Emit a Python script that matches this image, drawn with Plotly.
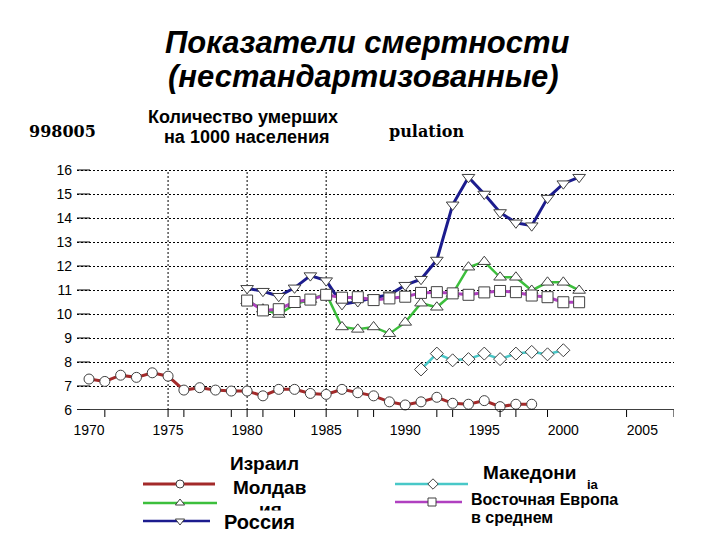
import plotly.graph_objects as go

# ---------------- data ----------------
years_israel = list(range(1970, 1999))
israel = [7.29, 7.19, 7.45, 7.36, 7.55, 7.41, 6.83, 6.93, 6.83, 6.79, 6.79, 6.59, 6.86, 6.86,
          6.69, 6.65, 6.86, 6.72, 6.59, 6.34, 6.21, 6.34, 6.53, 6.28, 6.24, 6.39, 6.14, 6.24, 6.24]

years_80 = list(range(1980, 2002))
moldova = [10.55, 10.20, 9.98, 10.40, 10.60, 10.85, 9.46, 9.36, 9.46, 9.18, 9.65, 10.45,
           10.28, 10.85, 11.95, 12.18, 11.53, 11.53, 10.98, 11.32, 11.32, 10.98]
russia = [11.07, 10.95, 10.74, 11.09, 11.60, 11.39, 10.40, 10.52, 10.68, 10.80, 11.20, 11.45,
          12.25, 14.55, 15.70, 15.00, 14.23, 13.80, 13.68, 14.83, 15.43, 15.70]
east_europe = [10.56, 10.15, 10.20, 10.50, 10.60, 10.80, 10.68, 10.70, 10.58, 10.65, 10.72, 10.88,
               10.91, 10.86, 10.80, 10.90, 10.96, 10.91, 10.77, 10.70, 10.49, 10.49]

years_mk = list(range(1991, 2001))
macedonia = [7.69, 8.35, 8.07, 8.12, 8.35, 8.12, 8.35, 8.42, 8.32, 8.49]

x_labels = [1970, 1975, 1980, 1985, 1990, 1995, 2000, 2005]
x_minor_ticks = [1971, 1975, 1976, 1979, 1980, 1981, 1983, 1985, 1987, 1988,
                 1992, 1993, 1996, 1997, 1999, 2004, 2007]
x_vgrid = [1975, 1980, 1985]
y_ticks = list(range(6, 17))

# ---------------- styles ----------------
C_IS = "#a32a2a"
C_MD = "#3cbf3c"
C_RU = "#1c1c8e"
C_MK = "#48c8c8"
C_EE = "#b040c0"
MK_LINE = dict(color="#404040", width=1)
FONT = "Liberation Sans, Arial, sans-serif"

W, H = 720, 540
PX_LEFT, PX_RIGHT, PX_BOTTOM, PX_TOP = 77, 674, 410, 164
XDOM = [PX_LEFT / W, PX_RIGHT / W]
YDOM = [(H - PX_BOTTOM) / H, (H - PX_TOP) / H]
XR = [1969.24, 2007.0]
YR = [6, 16.25]

fig = go.Figure()

def series(x, y, color, symbol, size, width):
    fig.add_trace(go.Scatter(
        x=x, y=y, mode="lines+markers",
        line=dict(color=color, width=width),
        marker=dict(symbol=symbol, size=size, color="white", line=MK_LINE),
        showlegend=False, cliponaxis=False, xaxis="x", yaxis="y"))

series(years_israel, israel, C_IS, "circle", 10, 3)
series(years_80, moldova, C_MD, "triangle-up", 11, 2.5)
series(years_80, russia, C_RU, "triangle-down", 11, 3)
series(years_mk, macedonia, C_MK, "diamond", 10, 2.5)
series(years_80, east_europe, C_EE, "square", 11, 3)

# ---------------- legend samples (pixel space axes) ----------------
def sample(x0, x1, xm, yy, color, symbol, width):
    fig.add_trace(go.Scatter(
        x=[x0, xm, x1], y=[yy, yy, yy], mode="lines+markers",
        line=dict(color=color, width=width),
        marker=dict(symbol=symbol, size=[0, 8, 0], opacity=[0, 1, 0],
                    color="white", line=dict(color="#404040", width=1)),
        showlegend=False, xaxis="x3", yaxis="y3", hoverinfo="skip"))

sample(143, 215, 180, 484, C_IS, "circle", 3)
sample(143, 217, 180, 503, C_MD, "triangle-up", 2.5)
sample(143, 210, 180, 521, C_RU, "triangle-down", 2.5)
sample(395, 468, 433, 484, C_MK, "diamond", 2.5)
sample(395, 462, 432, 502, C_EE, "square", 2.5)

# ---------------- layout ----------------
fig.update_layout(
    width=W, height=H,
    margin=dict(l=0, r=0, t=0, b=0),
    paper_bgcolor="white", plot_bgcolor="rgba(0,0,0,0)",
    template="none",
    font=dict(family=FONT, color="black"),
    xaxis=dict(domain=XDOM, range=XR, autorange=False,
               tickmode="array", tickvals=x_labels, ticks="", ticklabelstandoff=10,
               tickfont=dict(size=14, family=FONT),
               showline=False, showgrid=False, zeroline=False, anchor="y"),
    yaxis=dict(domain=YDOM, range=YR, autorange=False, tickmode="array", tickvals=y_ticks,
               ticks="", tickfont=dict(size=14, family=FONT), ticklabelstandoff=4,
               showgrid=True, gridcolor="black", gridwidth=1, griddash="2px,2px",
               showline=False, zeroline=False, anchor="x"),
    xaxis3=dict(domain=[0, 1], range=[0, W], autorange=False, visible=False,
                anchor="y3", fixedrange=True),
    yaxis3=dict(domain=[0, 1], range=[H, 0], autorange=False, visible=False,
                anchor="x3", fixedrange=True),
    showlegend=False,
)

# axis decorations as shapes
shapes = []
# x axis line
shapes.append(dict(type="line", xref="x domain", yref="y", x0=0, x1=1, y0=YR[0], y1=YR[0],
                   line=dict(color="black", width=1.5), layer="above"))
# x ticks (outside, down)
for v in x_minor_ticks:
    shapes.append(dict(type="line", xref="x", yref="paper", x0=v, x1=v,
                       y0=YDOM[0], y1=YDOM[0] - 7 / H,
                       line=dict(color="black", width=1), layer="above"))
# y ticks (from axis to the right)
for v in y_ticks:
    shapes.append(dict(type="line", xref="x domain", yref="y", x0=0, x1=13 / (PX_RIGHT - PX_LEFT),
                       y0=v, y1=v, line=dict(color="black", width=1), layer="above"))
# vertical dotted grid
for v in x_vgrid:
    shapes.append(dict(type="line", xref="x", yref="y", x0=v, x1=v, y0=YR[0], y1=16,
                       line=dict(color="black", width=1, dash="2px,2px"), layer="below"))
fig.update_layout(shapes=shapes)

def text(s, x, y, size, bold=True, italic=False, family=FONT, xanchor="center",
         bg=None, color="black"):
    t = s
    if bold:
        t = "<b>" + t + "</b>"
    if italic:
        t = "<i>" + t + "</i>"
    kw = dict(text=t, x=x, y=y, xref="x3", yref="y3", showarrow=False,
              xanchor=xanchor, yanchor="middle",
              font=dict(size=size, family=family, color=color))
    if bg:
        kw.update(bgcolor=bg, borderpad=0)
    fig.add_annotation(**kw)

# title
text("Показатели смертности", 367, 42, 31, italic=True)
text("(нестандартизованные)", 363, 76, 31, italic=True)
# scanned fragments
text("998005", 27, 131, 16, family="DejaVu Serif, serif", xanchor="left")
text("pulation", 466, 131, 16, family="DejaVu Serif, serif", xanchor="right")
# subtitle
text("Количество умерших", 243, 117, 18)
text("на 1000 населения", 246, 137, 18)

# legend labels
text("ия", 270, 509, 19)
text("Израил", 264, 463, 19)
text("Молдав", 269, 487, 19)
text("Россия", 259, 522, 20, bg="white")
text("Македони", 530, 472, 19)
text("ia", 593, 484, 13)
text("Восточная Европа", 469, 499, 16, xanchor="left")
text("в среднем", 469, 517, 16, xanchor="left")

fig.write_html("out.html")
